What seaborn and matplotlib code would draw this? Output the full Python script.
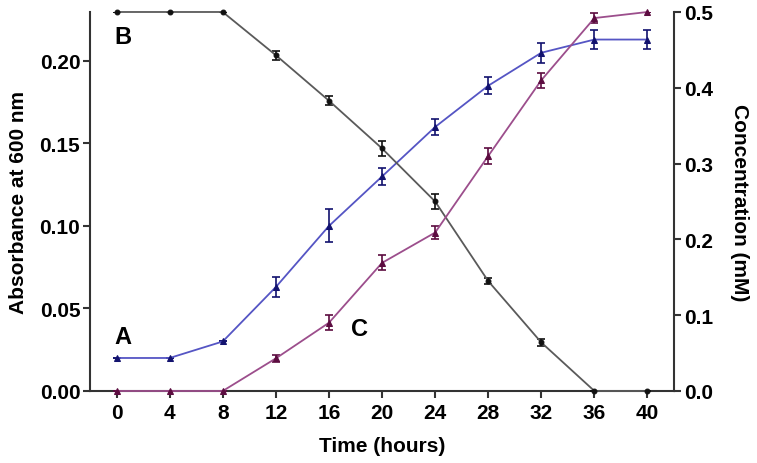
import numpy as np
import pandas as pd
import matplotlib
matplotlib.use("Agg")
import matplotlib.pyplot as plt
import seaborn as sns

# time points (hours)
time_h = [0, 4, 8, 12, 16, 20, 24, 28, 32, 36, 40]

# A: absorbance at 600 nm (left axis)
absorbance = [0.020, 0.020, 0.030, 0.063, 0.100, 0.130, 0.160, 0.185, 0.205, 0.213, 0.213]
absorbance_err = [0.0, 0.0, 0.0, 0.006, 0.010, 0.005, 0.005, 0.005, 0.006, 0.006, 0.006]

# B: concentration (mM), decreasing (right axis)
conc_b = [0.500, 0.500, 0.500, 0.443, 0.383, 0.320, 0.250, 0.145, 0.064, 0.0, 0.0]
conc_b_err = [0.0, 0.0, 0.0, 0.006, 0.006, 0.010, 0.010, 0.004, 0.004, 0.0, 0.0]

# C: concentration (mM), increasing (right axis)
conc_c = [0.0, 0.0, 0.0, 0.043, 0.090, 0.169, 0.209, 0.310, 0.410, 0.492, 0.500]
conc_c_err = [0.0, 0.0, 0.0, 0.005, 0.010, 0.010, 0.009, 0.010, 0.010, 0.007, 0.0]

blue_line, blue_mark = "#5555c4", "#12126e"
mag_line, mag_mark = "#9c4e8c", "#5c0c40"
blk_line, blk_mark = "#5a5a5a", "#111111"

sns.set_style("ticks")
plt.rcParams["font.family"] = ["Liberation Sans", "DejaVu Sans"]
plt.rcParams["font.weight"] = "bold"
plt.rcParams["text.color"] = "black"
plt.rcParams["axes.labelcolor"] = "black"
plt.rcParams["xtick.labelcolor"] = "black"
plt.rcParams["ytick.labelcolor"] = "black"

fig = plt.figure(figsize=(7.57, 4.64), dpi=100)
ax = fig.add_axes([0.1189, 0.1552, 0.7715, 0.8168])
ax2 = ax.twinx()

df = pd.DataFrame({"time": time_h, "abs": absorbance, "b": conc_b, "c": conc_c})

# error bars first
ax.errorbar(time_h, absorbance, yerr=absorbance_err, fmt="none", ecolor=blue_mark,
            elinewidth=1.2, capsize=3, capthick=1.2, zorder=2)
ax2.errorbar(time_h, conc_b, yerr=conc_b_err, fmt="none", ecolor=blk_mark,
             elinewidth=1.2, capsize=3, capthick=1.2, zorder=2)
ax2.errorbar(time_h, conc_c, yerr=conc_c_err, fmt="none", ecolor=mag_mark,
             elinewidth=1.2, capsize=3, capthick=1.2, zorder=2)

sns.lineplot(data=df, x="time", y="abs", ax=ax, color=blue_line, lw=1.3,
             marker="^", markersize=5, markerfacecolor=blue_mark,
             markeredgecolor=blue_mark, zorder=3, clip_on=False)
sns.lineplot(data=df, x="time", y="b", ax=ax2, color=blk_line, lw=1.3,
             marker="o", markersize=3.5, markerfacecolor=blk_mark,
             markeredgecolor=blk_mark, zorder=3, clip_on=False)
sns.lineplot(data=df, x="time", y="c", ax=ax2, color=mag_line, lw=1.3,
             marker="^", markersize=5, markerfacecolor=mag_mark,
             markeredgecolor=mag_mark, zorder=3, clip_on=False)

ax.set_xlim(-2, 42)
ax.set_ylim(0, 0.2297)
ax2.set_ylim(0, 0.5)
ax.set_xticks(time_h)
ax.set_yticks([0.0, 0.05, 0.10, 0.15, 0.20])
ax.set_yticklabels(["0.00", "0.05", "0.10", "0.15", "0.20"])
ax2.set_yticks([0.0, 0.1, 0.2, 0.3, 0.4, 0.5])
ax2.set_yticklabels(["0.0", "0.1", "0.2", "0.3", "0.4", "0.5"])

spine_c = "#333333"
for a in (ax, ax2):
    a.spines["top"].set_visible(False)
    for s in ("left", "right", "bottom"):
        a.spines[s].set_color(spine_c)
        a.spines[s].set_linewidth(1.5)
    a.tick_params(axis="both", length=5, width=1.5, color=spine_c,
                  labelsize=15, pad=2, labelcolor="black")
ax.tick_params(axis="x", pad=4)
ax.spines["right"].set_visible(False)
ax2.spines["left"].set_visible(False)
ax2.spines["bottom"].set_visible(False)

ax.set_xlabel("Time (hours)", fontsize=15, fontweight="bold", labelpad=10)
ax.set_ylabel("Absorbance at 600 nm", fontsize=15, fontweight="bold", labelpad=8)
ax2.set_ylabel("Concentration (mM)", fontsize=15, fontweight="bold",
               rotation=270, labelpad=26)

for lab in ax.get_xticklabels() + ax.get_yticklabels() + ax2.get_yticklabels():
    lab.set_fontweight("bold")

ax.text(0.5, 0.215, "B", fontsize=17, fontweight="bold", va="center", ha="center")
ax.text(0.5, 0.0333, "A", fontsize=17, fontweight="bold", va="center", ha="center")
ax.text(18.3, 0.0376, "C", fontsize=17, fontweight="bold", va="center", ha="center")

fig.savefig("out.png", dpi=100)
